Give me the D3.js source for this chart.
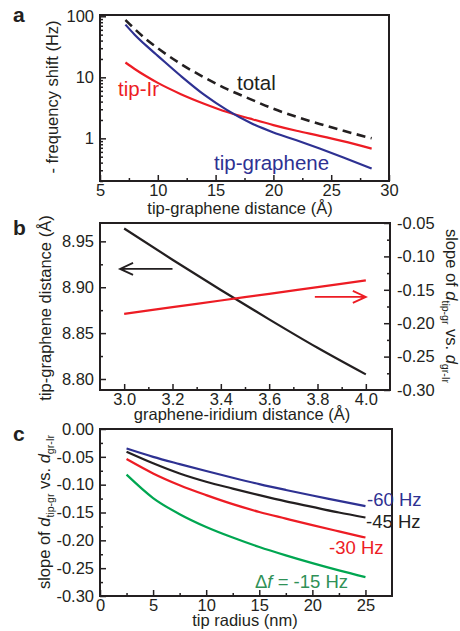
<!DOCTYPE html>
<html>
<head>
<meta charset="utf-8">
<script src="https://cdn.jsdelivr.net/npm/d3@7"></script>
<style>
body{margin:0;background:#fff;}
svg text{font-family:"Liberation Sans",Arial,Helvetica,sans-serif;fill:#231f20;}
</style>
</head>
<body>
<svg id="fig" width="460" height="631"></svg>
<script>
// panel a : frequency shift vs tip-graphene distance
var aDist         = [7.2, 8, 9, 10, 12, 14, 16, 18, 20, 22, 24, 26, 28.5];
var aTipGraphene  = [73, 50, 33, 22.5, 10.5, 5.2, 2.9, 1.8, 1.25, 0.93, 0.68, 0.49, 0.32];
var aTipIr        = [17.5, 13.7, 10.4, 8.1, 5.3, 3.7, 2.7, 2.1, 1.65, 1.33, 1.1, 0.9, 0.68];
var aTotal        = [87, 62, 42, 30, 16.5, 10, 6.4, 4.4, 3.05, 2.25, 1.72, 1.34, 1.0];

// panel b : vs graphene-iridium distance
var bGrIr   = [3.0, 3.2, 3.4, 3.6, 3.8, 4.0];
var bTipGr  = [8.964, 8.930, 8.897, 8.865, 8.834, 8.805];
var bSlope  = [-0.186, -0.176, -0.166, -0.156, -0.146, -0.136];

// panel c : slope vs tip radius for several frequency shifts
var cRadius = [2.5, 5, 7.5, 10, 12.5, 15, 17.5, 20, 22.5, 25];
var c60 = [-0.035, -0.050, -0.063, -0.0755, -0.0875, -0.099, -0.1095, -0.1195, -0.129, -0.1386];
var c45 = [-0.041, -0.0617, -0.080, -0.0948, -0.107, -0.1188, -0.130, -0.140, -0.150, -0.159];
var c30 = [-0.054, -0.0798, -0.101, -0.1188, -0.135, -0.149, -0.161, -0.1728, -0.184, -0.195];
var c15 = [-0.082, -0.124, -0.153, -0.176, -0.195, -0.212, -0.227, -0.241, -0.254, -0.266];

var BLUE = "#2e3192", RED = "#ed1c24", GREEN = "#00a651", BLACK = "#231f20";

var svg = d3.select("#fig");

function frame(x, y){
    svg.append("rect")
        .attr("x", x.range()[0]).attr("y", y.range()[1])
        .attr("width", x.range()[1]-x.range()[0])
        .attr("height", y.range()[0]-y.range()[1])
        .attr("fill","none").attr("stroke",BLACK).attr("stroke-width",2);
}

function styleAxis(g){
    g.select(".domain").remove();
    g.attr("font-size",16.5).attr("font-family",null);
    g.selectAll("line").attr("stroke",BLACK).attr("stroke-width",1.5);
    g.selectAll("text").attr("fill",BLACK);
}

function axis(kind, scale, pos, major, minor, fmt){
    var make = {bottom:d3.axisBottom, left:d3.axisLeft, right:d3.axisRight}[kind];
    var tr = kind=="bottom" ? "translate(0,"+pos+")" : "translate("+pos+",0)";
    var pad = kind=="bottom" ? 3 : (kind=="left" ? 6 : 7);
    svg.append("g").attr("transform",tr)
        .call(make(scale).tickValues(major).tickSize(-6).tickPadding(pad).tickFormat(fmt))
        .call(styleAxis);
    svg.append("g").attr("transform",tr)
        .call(make(scale).tickValues(minor).tickSize(-3).tickFormat(""))
        .call(styleAxis);
}

function curve(xs, ys, x, y, color, dash){
    var line = d3.line()
        .x(function(d){return x(d[0]);})
        .y(function(d){return y(d[1]);})
        .curve(d3.curveMonotoneX);
    svg.append("path")
        .datum(xs.map(function(v,i){return [v, ys[i]];}))
        .attr("d", line)
        .attr("fill","none")
        .attr("stroke",color)
        .attr("stroke-width", dash ? 2.6 : 2.2)
        .attr("stroke-dasharray", dash ? "9,5.5" : null);
}

function label(txt, x, y, size, color, opts){
    var t = svg.append("text").attr("x",x).attr("y",y)
        .attr("font-size",size).style("fill",color||BLACK).text(txt);
    if (opts && opts.bold) t.attr("font-weight","bold");
    return t;
}

function fixed(n){ return function(d){ return d.toFixed(n); }; }

// ---------- panel a ----------
var ax = d3.scaleLinear().domain([5,30]).range([100,389]);
var ay = d3.scaleLog().domain([0.2,105]).range([181,15]);

curve(aDist, aTotal, ax, ay, BLACK, true);
curve(aDist, aTipIr, ax, ay, RED);
curve(aDist, aTipGraphene, ax, ay, BLUE);
frame(ax, ay);

axis("bottom", ax, 181, [5,10,15,20,25,30], [7.5,12.5,17.5,22.5,27.5], d3.format("d"));
var logMinor = [];
[0.1,1,10].forEach(function(p){
    for (var k=2;k<10;k++){ var v=+(k*p).toFixed(3); if (v>=0.2 && v<=105) logMinor.push(v); }
});
axis("left", ay, 100, [1,10,100], logMinor, d3.format("d"));

label("total", 237, 90, 20.5, BLACK);
label("tip-Ir", 118, 96, 20.5, RED);
label("tip-graphene", 214, 170, 20.5, BLUE);

label("tip-graphene distance (Å)", 240, 214, 16.5, BLACK).attr("text-anchor","middle");
label("- frequency shift (Hz)", 0, 0, 16.5, BLACK)
    .attr("text-anchor","middle").attr("transform","translate(58,97) rotate(-90)");
label("a", 13, 22, 21, BLACK, {bold:true});

// ---------- panel b ----------
var bx  = d3.scaleLinear().domain([2.9,4.1]).range([100,390]);
var byL = d3.scaleLinear().domain([8.788,8.97]).range([390,223]);
var byR = d3.scaleLinear().domain([-0.30,-0.05]).range([390,223]);

curve(bGrIr, bTipGr, bx, byL, BLACK);
curve(bGrIr, bSlope, bx, byR, RED);
frame(bx, byL);

axis("bottom", bx, 390, [3.0,3.2,3.4,3.6,3.8,4.0], [3.1,3.3,3.5,3.7,3.9], fixed(1));
axis("left", byL, 100, [8.80,8.85,8.90,8.95], [8.825,8.875,8.925], fixed(2));
axis("right", byR, 390, [-0.30,-0.25,-0.20,-0.15,-0.10,-0.05], [-0.275,-0.225,-0.175,-0.125,-0.075], fixed(2));

// arrows pointing to each curve's axis
function arrow(x0, x1, yPix, color){
    var dir = x1 < x0 ? 1 : -1;
    var p = d3.path();
    p.moveTo(x0, yPix); p.lineTo(x1, yPix);
    p.moveTo(x1 + dir*13, yPix-6); p.lineTo(x1, yPix); p.lineTo(x1 + dir*13, yPix+6);
    svg.append("path").attr("d", p.toString()).attr("fill","none")
        .attr("stroke",color).attr("stroke-width",1.8);
}
arrow(bx(3.2), bx(2.983), byL(8.92), BLACK);
arrow(bx(3.789), bx(4.0), byR(-0.1606), RED);

label("graphene-iridium distance (Å)", 242, 420, 16.5, BLACK).attr("text-anchor","middle");
label("tip-graphene distance (Å)", 0, 0, 16.5, BLACK)
    .attr("text-anchor","middle").attr("transform","translate(51,308) rotate(-90)");

function slopeTitle(t){
    t.append("tspan").text("slope of ");
    t.append("tspan").attr("font-style","italic").text("d");
    t.append("tspan").attr("font-size",10.5).attr("dy",4).text("tip-gr");
    t.append("tspan").attr("dy",-4).text(" vs. ");
    t.append("tspan").attr("font-style","italic").text("d");
    t.append("tspan").attr("font-size",10.5).attr("dy",4).text("gr-Ir");
}
var rt = svg.append("text").attr("font-size",16.5).attr("text-anchor","middle")
    .attr("transform","translate(446,306) rotate(90)");
slopeTitle(rt);
label("b", 13, 235, 21, BLACK, {bold:true});

// ---------- panel c ----------
var cx = d3.scaleLinear().domain([0,27.5]).range([100,392]);
var cy = d3.scaleLinear().domain([-0.30,0]).range([596,429]);

curve(cRadius, c15, cx, cy, GREEN);
curve(cRadius, c30, cx, cy, RED);
curve(cRadius, c45, cx, cy, BLACK);
curve(cRadius, c60, cx, cy, BLUE);
frame(cx, cy);

axis("bottom", cx, 596, [0,5,10,15,20,25], [2.5,7.5,12.5,17.5,22.5], d3.format("d"));
axis("left", cy, 100, [0,-0.05,-0.10,-0.15,-0.20,-0.25,-0.30], [-0.025,-0.075,-0.125,-0.175,-0.225,-0.275], fixed(2));

label("-60 Hz", 367, 506, 18.5, BLUE);
label("-45 Hz", 366, 528, 18.5, BLACK);
label("-30 Hz", 329, 554, 18.5, RED);
var gl = label("", 255, 588, 18.5, "#2f9157");
gl.append("tspan").text("Δ");
gl.append("tspan").attr("font-style","italic").text("f");
gl.append("tspan").text(" = -15 Hz");

label("tip radius (nm)", 245, 626, 16.5, BLACK).attr("text-anchor","middle");
var lt = svg.append("text").attr("font-size",16.5).attr("text-anchor","middle")
    .attr("transform","translate(50,512) rotate(-90)");
slopeTitle(lt);
label("c", 13, 441, 21, BLACK, {bold:true});
</script>
</body>
</html>
